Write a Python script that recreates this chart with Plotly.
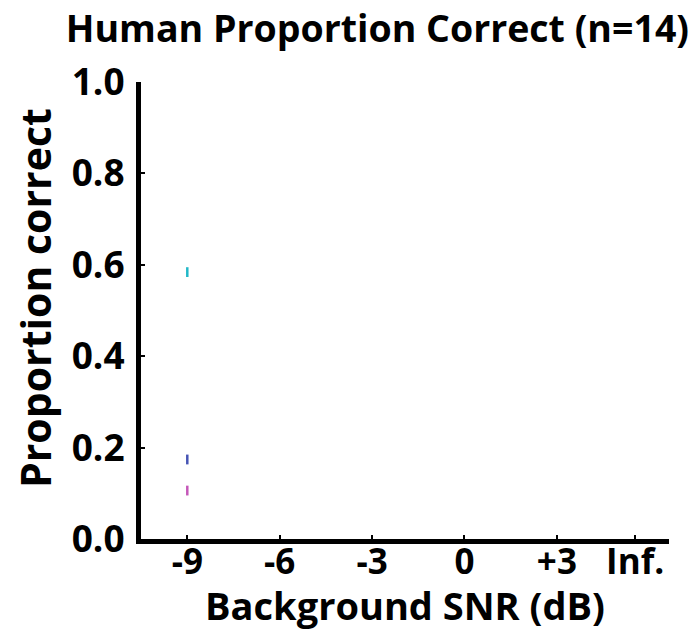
import plotly.graph_objects as go

# Data
snr_labels = ["-9", "-6", "-3", "0", "+3", "Inf."]
snr_positions = [-9, -6, -3, 0, 3, 5.54]
series_names = ["Condition A", "Condition B", "Condition C"]
series_colors = ["#22b8c8", "#4654b4", "#c557b9"]
series_x = [[-9], [-9], [-9]]
series_y = [[0.584], [0.174], [0.106]]

FONT = "Open Sans"

fig = go.Figure()
for name, color, xs, ys in zip(series_names, series_colors, series_x, series_y):
    fig.add_trace(go.Scatter(
        x=xs, y=ys, mode="markers", name=name,
        marker=dict(symbol="line-ns", size=7, line=dict(color=color, width=2.5)),
        showlegend=False,
    ))

fig.update_layout(
    width=695, height=631,
    margin=dict(l=141, r=26, t=82, b=92),
    paper_bgcolor="white", plot_bgcolor="white",
    font=dict(family=FONT, color="black"),
    title=dict(text="<b>Human Proportion Correct (n=14)</b>",
               x=0.543, xanchor="center", y=1 - 29 / 631, yanchor="middle",
               font=dict(size=37.5, family=FONT, color="black")),
    xaxis=dict(
        range=[-10.503, 6.64],
        tickvals=snr_positions, ticktext=["<b>%s</b>" % t for t in snr_labels],
        showline=True, linecolor="black", linewidth=5,
        ticks="inside", ticklen=4, tickwidth=2, tickcolor="black",
        ticklabelstandoff=-12,
        showgrid=False, zeroline=False,
        tickfont=dict(size=35, family=FONT, color="black"),
        title=dict(text="<b>Background SNR (dB)</b>", standoff=0,
                   font=dict(size=38, family=FONT, color="black")),
    ),
    yaxis=dict(
        range=[0, 1.0],
        tickvals=[0, 0.2, 0.4, 0.6, 0.8, 1.0],
        ticktext=["<b>%s</b>" % t for t in ["0.0", "0.2", "0.4", "0.6", "0.8", "1.0"]],
        showline=True, linecolor="black", linewidth=5,
        ticks="inside", ticklen=4, tickwidth=2, tickcolor="black",
        ticklabelstandoff=4,
        showgrid=False, zeroline=False,
        tickfont=dict(size=37, family=FONT, color="black"),
    ),
    annotations=[dict(
        text="<b>Proportion correct</b>", textangle=-90,
        xref="paper", yref="paper",
        x=(35 - 141) / (695 - 141 - 26), y=(631 - 92 - 298) / (631 - 82 - 92),
        xanchor="center", yanchor="middle", showarrow=False,
        font=dict(size=41, family=FONT, color="black"),
    )],
)

fig.write_html("out.html")
